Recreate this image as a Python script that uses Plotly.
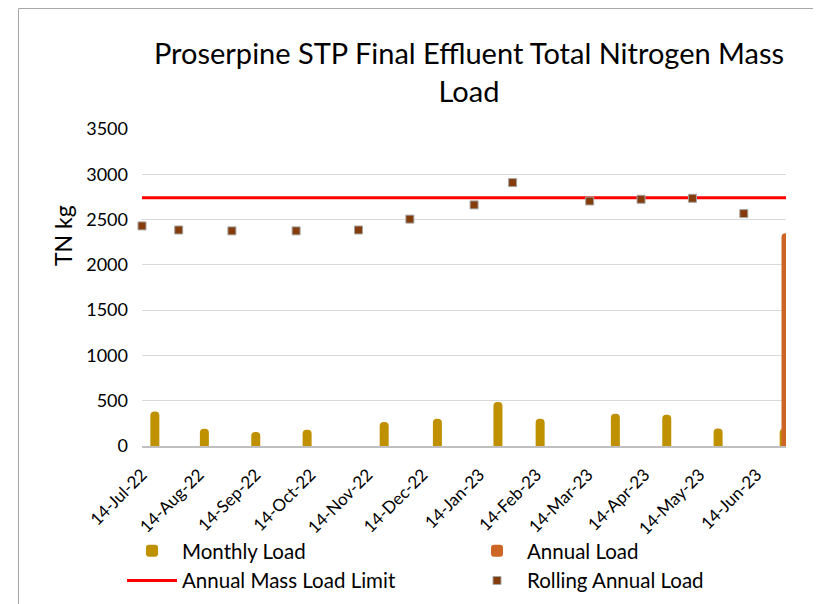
import plotly.graph_objects as go

# ---- data ----
monthly_dates = ["2022-07-21", "2022-08-17", "2022-09-14", "2022-10-12", "2022-11-23",
                 "2022-12-22", "2023-01-24", "2023-02-16", "2023-03-29", "2023-04-26",
                 "2023-05-24", "2023-06-29"]
monthly_load = [380, 190, 155, 180, 265, 300, 485, 300, 357, 346, 192, 190]

annual_dates = ["2023-06-30"]
annual_load = [2350]

rolling_dates = ["2022-07-14", "2022-08-03", "2022-09-01", "2022-10-06", "2022-11-09",
                 "2022-12-07", "2023-01-11", "2023-02-01", "2023-03-15", "2023-04-12",
                 "2023-05-10", "2023-06-07"]
rolling_load = [2430, 2385, 2375, 2375, 2385, 2505, 2662, 2908, 2705, 2724, 2735, 2566]

limit_dates = ["2022-07-14", "2023-06-30"]
limit_load = [2740, 2740]

tick_dates = ["2022-07-14", "2022-08-14", "2022-09-14", "2022-10-14", "2022-11-14",
              "2022-12-14", "2023-01-14", "2023-02-14", "2023-03-14", "2023-04-14",
              "2023-05-14", "2023-06-14"]
tick_labels = ["14-Jul-22", "14-Aug-22", "14-Sep-22", "14-Oct-22", "14-Nov-22",
               "14-Dec-22", "14-Jan-23", "14-Feb-23", "14-Mar-23", "14-Apr-23",
               "14-May-23", "14-Jun-23"]
y_ticks = [0, 500, 1000, 1500, 2000, 2500, 3000, 3500]

FONT = "Lato"
DAY_MS = 86400000
BAR_W = 4.9 * DAY_MS

fig = go.Figure()
fig.add_trace(go.Bar(x=monthly_dates, y=monthly_load, name="Monthly Load",
                     marker=dict(color="#BF9000", line=dict(width=0)), width=BAR_W))
fig.add_trace(go.Bar(x=annual_dates, y=annual_load, name="Annual Load",
                     marker=dict(color="#CD6524", line=dict(width=0)), width=BAR_W))
fig.add_trace(go.Scatter(x=limit_dates, y=limit_load, name="Annual Mass Load Limit",
                         mode="lines", line=dict(color="#FF0000", width=3)))
fig.add_trace(go.Scatter(x=rolling_dates, y=rolling_load, name="Rolling Annual Load",
                         mode="markers", cliponaxis=False,
                         marker=dict(symbol="square", size=8, color="#843C0C",
                                     line=dict(color="#A5A5A5", width=1))))

# page body has an 8px margin: figure is drawn at (8, 8) in the screenshot
OFF = 8
W, H = 821 - OFF, 604 - OFF
L, R = 142 - OFF, W - (786 - OFF)
T, B = 129 - OFF, H - (446 - OFF)
pw, ph = W - L - R, H - T - B

def px_x(px):  # screenshot px -> paper x
    return (px - OFF - L) / pw

def px_y(py):  # screenshot px -> paper y
    return (H - B - (py - OFF)) / ph

fig.update_layout(
    width=W, height=H,
    margin=dict(l=L, r=R, t=T, b=B, autoexpand=False),
    paper_bgcolor="white", plot_bgcolor="white",
    font=dict(family=FONT, color="#000000"),
    barmode="overlay",
    barcornerradius=4,
    title=dict(text="Proserpine STP Final Effluent Total Nitrogen Mass<br>Load",
               x=(469 - OFF) / W, xanchor="center", xref="container",
               y=1 - 56 / H, yanchor="top", yref="container",
               font=dict(family=FONT, size=29, color="#000000")),
    xaxis=dict(type="date", range=["2022-07-14", "2023-06-30"], automargin=False,
               tickmode="array", tickvals=tick_dates, ticktext=tick_labels,
               tickangle=-45, tickfont=dict(family=FONT, size=17, color="#000000"),
               ticklabelstandoff=10,
               showgrid=False, showline=True, linecolor="#BFBFBF", linewidth=2,
               ticks="", zeroline=False),
    yaxis=dict(range=[0, 3500], tickmode="array", tickvals=y_ticks, automargin=False,
               tickfont=dict(family=FONT, size=18, color="#000000"),
               showgrid=True, gridcolor="#D9D9D9", gridwidth=1,
               zeroline=False, showline=False, ticks="", ticklabelstandoff=13),
    showlegend=True,
    legend=dict(orientation="h", x=px_x(122), xanchor="left",
                y=px_y(531), yanchor="top",
                entrywidth=280, entrywidthmode="pixels",
                font=dict(family=FONT, size=20.5, color="#000000"),
                itemwidth=50, tracegroupgap=0, bgcolor="rgba(0,0,0,0)"),
    annotations=[dict(text="TN kg", textangle=-90, xref="paper", yref="paper",
                      x=px_x(63), y=px_y(236), xanchor="center", yanchor="middle",
                      showarrow=False, font=dict(family=FONT, size=23, color="#000000"))],
    shapes=[
        dict(type="line", xref="paper", yref="paper", x0=px_x(18.5), x1=px_x(18.5),
             y0=px_y(620), y1=px_y(8.5), line=dict(color="#A6A6A6", width=1)),
        dict(type="line", xref="paper", yref="paper", x0=px_x(18.5), x1=px_x(830),
             y0=px_y(8.5), y1=px_y(8.5), line=dict(color="#A6A6A6", width=1)),
    ],
)

fig.write_html("out.html")
